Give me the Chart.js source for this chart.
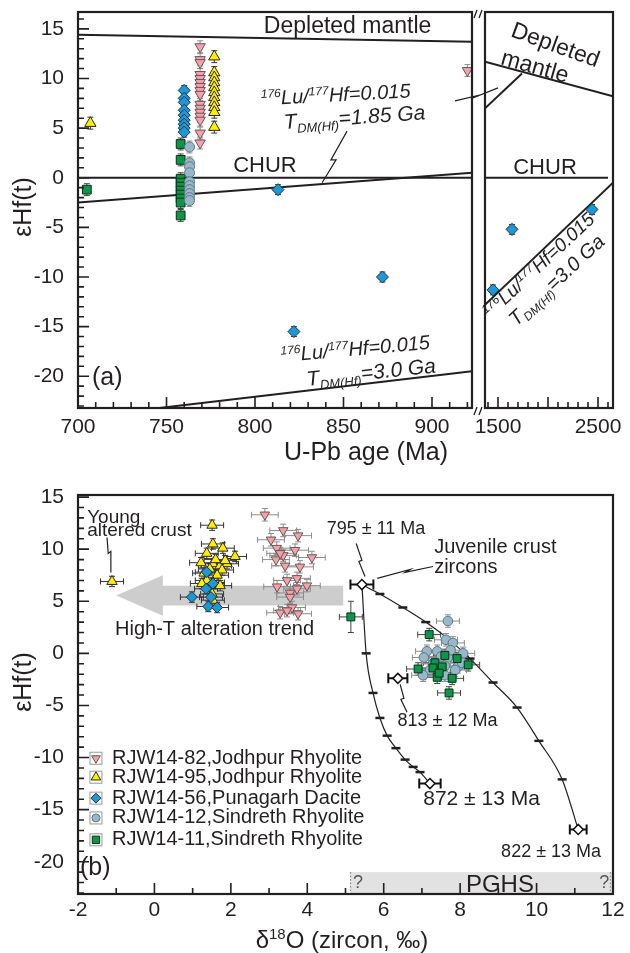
<!DOCTYPE html>
<html>
<head>
<meta charset="utf-8">
<title>eHf(t) vs U-Pb age and d18O</title>
<script src="https://cdn.jsdelivr.net/npm/chart.js@4.4.1/dist/chart.umd.min.js"></script>
<style>
  body { margin: 0; background: #fff; }
  #wrap { position: relative; width: 630px; height: 953px; }
  #wrap canvas { position: absolute; left: 0; }
</style>
</head>
<body>
<div id="wrap">
  <canvas id="ageL" width="630" height="470" style="top:0"></canvas>
  <canvas id="ageR" width="630" height="470" style="top:0"></canvas>
  <canvas id="oxy" width="630" height="483" style="top:470px"></canvas>
</div>
<script>
var INK = '#231f20';
var FONT = '"Liberation Sans", Arial, Helvetica, sans-serif';

// ---------- panel (a): eHf(t) vs U-Pb age (Ma) ----------
var ageTicksL = [700, 750, 800, 850, 900];
var ageTicksR = [1500, 2500];
var hfTicksA = [-20, -15, -10, -5, 0, 5, 10, 15];

var age82 = [769, 769, 769, 769, 769, 769, 769, 769, 769, 769, 769, 769, 769, 769, 769, 769, 920];
var hf82  = [13.2, 11.9, 11.6, 10.4, 10.0, 9.6, 9.2, 8.8, 8.4, 7.4, 7.0, 6.6, 6.2, 5.8, 4.5, 3.5, 10.8];
var age95 = [777, 777, 777, 777, 777, 777, 777, 777, 777, 777, 777, 707];
var hf95  = [12.2, 10.6, 10.1, 9.6, 9.1, 8.6, 8.1, 7.6, 7.1, 6.6, 5.1, 5.5];
var age56 = [760, 760, 760, 760, 760, 760, 760, 760, 760, 813, 822, 872];
var hf56  = [8.8, 8.0, 7.6, 6.8, 6.3, 5.8, 5.4, 5.0, 4.6, -1.2, -15.5, -10.0];
var age56old = [1450, 1640, 2440];
var hf56old  = [-11.3, -5.2, -3.2];
var age12 = [763, 763, 763, 763, 763, 763, 763, 763, 763, 763];
var hf12  = [3.1, 1.5, 1.1, 0.5, -0.4, -0.8, -1.2, -1.6, -2.0, -2.3];
var age11 = [758, 758, 758, 758, 758, 758, 758, 758, 758, 758, 705];
var hf11  = [3.4, 1.8, -0.1, -0.5, -0.9, -1.3, -1.7, -2.1, -2.5, -3.8, -1.2];

// reference evolution lines
var dmAgeL = [700, 922.6],  dmHfL = [14.4, 13.7];
var churAgeL = [700, 922.6], churHfL = [0, 0];
var t185Age = [700, 922.6], t185Hf = [-2.5, 0.5];
var t30AgeL = [746, 922.6], t30HfL = [-23.2, -19.5];
var dmAgeR = [1370, 2650], dmHfR = [11.7, 8.2];
var dmCutAge = [1370, 1740], dmCutHf = [7.0, 10.5];
var churAgeR = [1370, 2600], churHfR = [0, 0];
var t30AgeR = [1370, 2650], t30HfR = [-12.8, -0.5];

// ---------- panel (b): eHf(t) vs d18O ----------
var d18Ticks = [-2, 0, 2, 4, 6, 8, 10, 12];
var hfTicksB = [-20, -15, -10, -5, 0, 5, 10, 15];

var o82 = [2.89, 3.37, 3.76, 3.05, 3.20, 3.68, 4.12, 3.37, 3.18, 3.29, 3.42, 3.81, 3.47, 3.73, 3.21, 3.99, 3.55, 3.73, 3.55, 3.29, 3.60, 3.76, 3.47];
var e82 = [13.3, 11.8, 11.3, 10.9, 10.1, 9.9, 9.2, 9.4, 9.0, 9.6, 8.4, 8.3, 7.0, 7.2, 6.4, 6.5, 5.8, 6.2, 5.4, 3.9, 4.4, 3.8, 4.1];
var o95 = [-1.11, 1.51, 1.53, 1.79, 1.37, 2.11, 1.22, 1.53, 1.72, 1.90, 1.45, 1.77, 1.30, 1.64, 1.37, 1.53, 1.24, 1.72, 1.51, 1.53, 1.60, 1.85];
var e95 = [6.9, 12.3, 10.5, 10.1, 9.6, 9.3, 8.7, 8.6, 8.4, 8.6, 8.1, 8.0, 7.7, 7.5, 7.0, 6.8, 6.7, 6.5, 5.7, 5.1, 9.0, 8.9];
var o56 = [1.37, 1.35, 1.53, 0.98, 1.48, 1.41, 1.64];
var e56 = [7.8, 6.2, 6.7, 5.4, 5.4, 4.5, 4.4];
var o12 = [7.68, 7.63, 7.81, 7.13, 7.40, 8.08, 7.05, 7.68, 7.47, 7.60, 7.94, 7.21, 7.87, 7.03, 7.60, 7.29, 8.05, 7.50, 7.75];
var e12 = [3.1, 1.3, 1.0, 0.2, 0.2, 0.0, -0.4, -0.4, -0.7, -1.2, -1.3, -1.6, -1.6, -2.1, -2.1, -1.0, -0.9, -0.3, 0.3];
var o11 = [5.14, 7.19, 6.90, 8.21, 7.79, 7.40, 7.71, 7.92, 7.34, 7.53, 7.29, 7.60, 7.45];
var e11 = [3.5, 1.8, -1.5, -1.1, -2.4, -2.3, -3.8, -0.5, -0.9, -1.3, -1.4, -0.2, -1.9];
var e11Err = [1.5, 0.6, 0.6, 0.6, 0.6, 0.6, 0.6, 0.6, 0.6, 0.6, 0.6, 0.6, 0.6];

// juvenile crust zircons and mixing curves
var juvO = [5.43, 6.37, 7.21, 11.09];
var juvE = [6.6, -2.4, -12.5, -16.9];
var juvOErr = [0.3, 0.25, 0.28, 0.22];
var mix822O = [5.43, 5.90, 6.50, 7.10, 7.75, 8.26, 8.86, 9.49, 10.06, 10.67, 11.09];
var mix822E = [6.6, 5.7, 4.4, 3.0, 1.2, -0.5, -2.8, -5.2, -8.4, -12.1, -16.9];
var mix872O = [5.43, 5.54, 5.72, 5.90, 6.09, 6.32, 6.56, 6.77, 6.95, 7.21];
var mix872E = [6.6, 0.0, -3.8, -6.2, -7.9, -9.1, -10.2, -10.9, -11.4, -12.5];

var legendNames = ['RJW14-82,Jodhpur Rhyolite', 'RJW14-95,Jodhpur Rhyolite', 'RJW14-56,Punagarh Dacite',
                   'RJW14-12,Sindreth Rhyolite', 'RJW14-11,Sindreth Rhyolite'];

var STY = {
  r82: { ps: 'triangle', rot: 180, r: 6, bg: '#f5a1a8', bd: '#6a5557', err: '#8c8c8c' },
  r95: { ps: 'triangle', rot: 0, r: 6.5, bg: '#ffec00', bd: '#2a2a20', err: '#333' },
  r56: { ps: 'rectRot', rot: 0, r: 6, bg: '#1c98d8', bd: '#173444', err: '#333' },
  r12: { ps: 'circle', rot: 0, r: 5, bg: '#98b7c9', bd: '#5e7886', err: '#8c8c8c' },
  r11: { ps: 'rect', rot: 0, r: 6.2, bg: '#0f9548', bd: '#0a3018', err: '#444' }
};
var legendStyles = [STY.r82, STY.r95, STY.r56, STY.r12, STY.r11];

function pts(xs, ys) { return xs.map(function (x, i) { return { x: x, y: ys[i] }; }); }
function pick(v, j) { return Array.isArray(v) ? v[j] : v; }

function scatter(xs, ys, s, extra) {
  var d = {
    data: pts(xs, ys), showLine: false,
    pointStyle: s.ps, pointRotation: s.rot, pointRadius: s.r,
    backgroundColor: s.bg, borderColor: s.bd, borderWidth: 1, errColor: s.err
  };
  return Object.assign(d, extra || {});
}
function refLine(xs, ys) {
  return { data: pts(xs, ys), showLine: true, pointRadius: 0, borderColor: INK, borderWidth: 2, fill: false };
}

function xAxis(min, max, ticks, pad, h) {
  return {
    type: 'linear', min: min, max: max,
    grid: { display: false, drawTicks: false }, border: { display: false },
    ticks: { font: { family: FONT, size: 21 }, color: INK, padding: pad, maxRotation: 0, autoSkip: false,
             callback: function (v) { return String(v); } },
    afterBuildTicks: function (s) { s.ticks = ticks.map(function (v) { return { value: v }; }); },
    afterFit: function (s) { s.height = h; s.paddingLeft = 0; s.paddingRight = 0; }
  };
}
function yAxis(min, max, ticks, show) {
  return {
    type: 'linear', min: min, max: max, display: show,
    grid: { display: false, drawTicks: false }, border: { display: false },
    ticks: { font: { family: FONT, size: 21 }, color: INK, padding: 14, autoSkip: false,
             callback: function (v) { return String(v); } },
    afterBuildTicks: function (s) { s.ticks = ticks.map(function (v) { return { value: v }; }); },
    afterFit: function (s) { s.width = show ? 78 : 0; s.paddingTop = 0; s.paddingBottom = 0; }
  };
}

// ---------- drawing helpers ----------
function rich(ctx, segs, x, y, size, o) {
  o = o || {};
  var sty = o.italic ? 'italic ' : '';
  var fontOf = function (k) { return sty + (k ? Math.round(size * 0.62) : size) + 'px ' + FONT; };
  var w = 0;
  segs.forEach(function (s) { ctx.font = fontOf(s[1]); w += ctx.measureText(s[0]).width; });
  ctx.save();
  ctx.translate(x, y);
  if (o.angle) ctx.rotate(o.angle * Math.PI / 180);
  ctx.fillStyle = o.color || INK;
  ctx.textBaseline = o.baseline || 'alphabetic';
  var cx = o.align === 'left' ? 0 : (o.align === 'right' ? -w : -w / 2);
  segs.forEach(function (s) {
    ctx.font = fontOf(s[1]);
    var dy = s[1] === 'sup' ? -size * 0.36 : (s[1] === 'sub' ? size * 0.22 : 0);
    ctx.fillText(s[0], cx, dy);
    cx += ctx.measureText(s[0]).width;
  });
  ctx.restore();
}
function px(c, x, y) { return [c.scales.x.getPixelForValue(x), c.scales.y.getPixelForValue(y)]; }
function note(c, segs, x, y, size, o) { var p = px(c, x, y); rich(c.ctx, segs, p[0], p[1], size, o); }
function leader(c, xs, ys, w) {
  var ctx = c.ctx;
  ctx.save();
  ctx.strokeStyle = INK; ctx.lineWidth = w || 1.2;
  ctx.beginPath();
  xs.forEach(function (x, i) { var p = px(c, x, ys[i]); if (i) ctx.lineTo(p[0], p[1]); else ctx.moveTo(p[0], p[1]); });
  ctx.stroke();
  ctx.restore();
}
var LU = [['176', 'sup'], ['Lu/'], ['177', 'sup'], ['Hf=0.015']];
function tdm(ga) { return [['T'], ['DM(Hf)', 'sub'], ['=' + ga + ' Ga']]; }
var EHF = [['\u03b5'], ['Hf(t)']];

// ---------- plugins ----------
var errPlugin = {
  id: 'errbars',
  beforeDatasetsDraw: function (chart) {
    var ctx = chart.ctx, xs = chart.scales.x, ys = chart.scales.y;
    chart.data.datasets.forEach(function (ds) {
      if (!ds.xErr && !ds.yErr) return;
      ctx.save();
      ctx.strokeStyle = ds.errColor || '#444';
      ctx.lineWidth = ds.errWidth || 1;
      var cap = ds.errCap || 3;
      ds.data.forEach(function (p, j) {
        var x = xs.getPixelForValue(p.x), y = ys.getPixelForValue(p.y);
        var ex = pick(ds.xErr, j), ey = pick(ds.yErr, j);
        ctx.beginPath();
        if (ex) {
          var x0 = xs.getPixelForValue(p.x - ex), x1 = xs.getPixelForValue(p.x + ex);
          ctx.moveTo(x0, y); ctx.lineTo(x1, y);
          ctx.moveTo(x0, y - cap); ctx.lineTo(x0, y + cap);
          ctx.moveTo(x1, y - cap); ctx.lineTo(x1, y + cap);
        }
        if (ey) {
          var y0 = ys.getPixelForValue(p.y - ey), y1 = ys.getPixelForValue(p.y + ey);
          ctx.moveTo(x, y0); ctx.lineTo(x, y1);
          ctx.moveTo(x - cap, y0); ctx.lineTo(x + cap, y0);
          ctx.moveTo(x - cap, y1); ctx.lineTo(x + cap, y1);
        }
        ctx.stroke();
      });
      ctx.restore();
    });
  }
};

var framePlugin = {
  id: 'frame',
  afterDatasetsDraw: function (chart, args, o) {
    var ctx = chart.ctx, a = chart.chartArea, xs = chart.scales.x, ys = chart.scales.y;
    function walk(sc, step, major, fn) {
      for (var v = Math.ceil(sc.min / step - 1e-9) * step; v <= sc.max + 1e-9; v += step) {
        var big = Math.abs(v / major - Math.round(v / major)) < 1e-6;
        fn(sc.getPixelForValue(v), big ? 11 : 6);
      }
    }
    ctx.save();
    ctx.strokeStyle = INK;
    ctx.lineWidth = 1.6;
    ctx.beginPath();
    if (o.xStep) walk(xs, o.xStep, o.xMajor, function (p, len) { ctx.moveTo(p, a.bottom); ctx.lineTo(p, a.bottom - len); });
    if (o.yStep) walk(ys, o.yStep, o.yMajor, function (p, len) { ctx.moveTo(a.left, p); ctx.lineTo(a.left + len, p); });
    ctx.stroke();
    ctx.lineWidth = 2.2;
    ctx.strokeRect(a.left, a.top, a.right - a.left, a.bottom - a.top);
    ctx.restore();
  }
};

var notesAL = {
  id: 'notesAL',
  afterDraw: function (c) {
    var ctx = c.ctx, a = c.chartArea;
    note(c, [['Depleted mantle']], 852.3, 14.6, 23);
    note(c, LU, 845.8, 7.7, 20, { italic: true, angle: -3 });
    note(c, tdm('1.85'), 856.5, 5.4, 21, { italic: true, angle: -4 });
    note(c, [['CHUR']], 805.6, 0.6, 22);
    note(c, LU, 857, -17.9, 20, { italic: true, angle: -5 });
    note(c, tdm('3.0'), 866, -20.3, 21, { italic: true, angle: -6 });
    note(c, [['(a)']], 707.9, -20.9, 25, { align: 'left' });
    leader(c, [837.9, 845.8, 842.9, 852], [-0.5, 1.8, 1.8, 4.7]);
    leader(c, [913.0, 925.4, 922.0, 937.3], [7.75, 8.26, 7.96, 9.06]);
    // axis break marks
    ctx.save();
    ctx.strokeStyle = INK; ctx.lineWidth = 1.3;
    ctx.beginPath();
    [a.top + 2, a.bottom + 3].forEach(function (yy) {
      ctx.moveTo(a.right + 2, yy + 4); ctx.lineTo(a.right + 5, yy - 4);
      ctx.moveTo(a.right + 7, yy + 4); ctx.lineTo(a.right + 10, yy - 4);
    });
    ctx.stroke();
    ctx.restore();
    rich(ctx, [['U-Pb age (Ma)']], 366, 460, 25);
    rich(ctx, EHF, 24, 207, 25, { angle: -90, baseline: 'middle' });
  }
};
var notesAR = {
  id: 'notesAR',
  afterDraw: function (c) {
    note(c, [['CHUR']], 1970, 0.4, 22);
    note(c, [['Depleted']], 2050, 12.7, 23, { angle: 20 });
    note(c, [['mantle']], 1850, 10.5, 23, { angle: 16 });
    note(c, LU, 1950, -9.3, 19, { italic: true, angle: -43 });
    note(c, tdm('3.0'), 2130, -10.8, 20, { italic: true, angle: -43 });
  }
};

var notesB = {
  id: 'notesB',
  beforeDraw: function (c) {
    var ctx = c.ctx;
    // high-T alteration arrow
    var ax = [-1.0, 0.22, 0.22, 4.94, 4.94, 0.22, 0.22];
    var ay = [5.56, 7.5, 6.5, 6.5, 4.6, 4.6, 3.6];
    ctx.save();
    ctx.fillStyle = '#cdcdcd';
    ctx.beginPath();
    ax.forEach(function (x, i) { var p = px(c, x, ay[i]); if (i) ctx.lineTo(p[0], p[1]); else ctx.moveTo(p[0], p[1]); });
    ctx.closePath();
    ctx.fill();
    // PGHS band
    var p0 = px(c, 5.12, -21.0), p1 = px(c, 12, -23.1);
    ctx.fillStyle = '#e2e2e2';
    ctx.fillRect(p0[0], p0[1], p1[0] - p0[0], p1[1] - p0[1]);
    ctx.strokeStyle = '#777'; ctx.lineWidth = 1; ctx.setLineDash([1.5, 2]);
    ctx.beginPath();
    ctx.moveTo(p0[0] + 0.5, p0[1]); ctx.lineTo(p0[0] + 0.5, p1[1]);
    var q = px(c, 11.93, -21.0);
    ctx.moveTo(q[0], p0[1]); ctx.lineTo(q[0], p1[1]);
    ctx.stroke();
    ctx.restore();
  },
  afterDraw: function (c) {
    var ctx = c.ctx;
    note(c, [['?']], 5.33, -22.5, 18, { color: '#555' });
    note(c, [['?']], 11.77, -22.5, 18, { color: '#555' });
    note(c, [['PGHS']], 9.04, -22.9, 24);
    note(c, [['Young']], -1.76, 12.56, 19, { align: 'left' });
    note(c, [['altered crust']], -1.76, 11.31, 19, { align: 'left' });
    leader(c, [-1.24, -1.21, -1.14, -1.14], [11.12, 9.59, 9.78, 7.77]);
    note(c, [['High-T alteration trend']], -1.03, 1.73, 20, { align: 'left' });
    note(c, [['795 \u00b1 11 Ma']], 5.80, 11.5, 18);
    leader(c, [5.28, 5.43, 5.35, 5.51], [10.55, 8.92, 8.82, 7.38]);
    note(c, [['Juvenile crust']], 7.32, 9.68, 20, { align: 'left' });
    note(c, [['zircons']], 7.32, 7.67, 20, { align: 'left' });
    leader(c, [7.29, 6.56, 6.69, 5.83], [8.34, 7.77, 8.05, 7.19]);
    note(c, [['813 \u00b1 12 Ma']], 7.67, -7.0, 18);
    leader(c, [6.43, 6.53, 6.45, 6.61], [-2.97, -4.31, -4.41, -5.66]);
    note(c, [['872 \u00b1 13 Ma']], 8.56, -14.57, 21);
    note(c, [['822 \u00b1 13 Ma']], 10.38, -19.56, 18);
    note(c, [['(b)']], -1.95, -21.3, 25, { align: 'left' });
    // legend
    var rows = [-10.07, -11.89, -13.9, -15.8, -17.9];
    rows.forEach(function (yv, i) {
      var s = legendStyles[i], p = px(c, -1.53, yv);
      ctx.save();
      ctx.strokeStyle = '#999'; ctx.lineWidth = 1;
      ctx.strokeRect(p[0] - 6, p[1] - 6, 12, 12);
      ctx.fillStyle = s.bg; ctx.strokeStyle = s.bd;
      if (Chart.helpers && Chart.helpers.drawPoint) {
        Chart.helpers.drawPoint(ctx, { pointStyle: s.ps, rotation: s.rot, radius: s.r - 1, borderWidth: 1 }, p[0], p[1]);
      }
      ctx.restore();
      note(c, [[legendNames[i]]], -1.11, yv, 20, { align: 'left', baseline: 'middle' });
    });
    rich(ctx, [['\u03b4'], ['18', 'sup'], ['O (zircon, \u2030)']], 342, 478, 24);
    rich(ctx, EHF, 24, 212, 25, { angle: -90, baseline: 'middle' });
  }
};

var baseOpts = function (pad, scales, frame) {
  return {
    responsive: false, animation: false, events: [], devicePixelRatio: 1,
    layout: { padding: pad },
    scales: scales,
    plugins: { legend: { display: false }, tooltip: { enabled: false }, frame: frame }
  };
};

// panel (a), left segment
new Chart(document.getElementById('ageL'), {
  type: 'scatter',
  data: { datasets: [
    scatter(age95, hf95, STY.r95, { yErr: 0.6 }),
    scatter(age82, hf82, STY.r82, { yErr: 0.6 }),
    scatter(age56, hf56, STY.r56, { yErr: 0.5 }),
    scatter(age12, hf12, STY.r12, { yErr: 0.6 }),
    scatter(age11, hf11, STY.r11, { yErr: 0.6 }),
    refLine(dmAgeL, dmHfL), refLine(churAgeL, churHfL), refLine(t185Age, t185Hf), refLine(t30AgeL, t30HfL)
  ] },
  options: baseOpts({ left: 0, top: 12, right: 158, bottom: 0 },
    { x: xAxis(700, 922.6, ageTicksL, 7, 62), y: yAxis(-23.2, 16.7, hfTicksA, true) },
    { xStep: 10, xMajor: 50, yStep: 1, yMajor: 5 }),
  plugins: [errPlugin, framePlugin, notesAL]
});

// panel (a), right segment (older grains)
new Chart(document.getElementById('ageR'), {
  type: 'scatter',
  data: { datasets: [
    scatter(age56old, hf56old, STY.r56, { yErr: 0.5 }),
    refLine(dmAgeR, dmHfR), refLine(dmCutAge, dmCutHf), refLine(churAgeR, churHfR), refLine(t30AgeR, t30HfR)
  ] },
  options: baseOpts({ left: 485, top: 12, right: 17, bottom: 0 },
    { x: xAxis(1370, 2650, ageTicksR, 7, 62), y: yAxis(-23.2, 16.7, hfTicksA, false) },
    { xStep: 100, xMajor: 500 }),
  plugins: [errPlugin, framePlugin, notesAR]
});

// panel (b)
var tickR = function (c) { var n = c.dataset.data.length; return (c.dataIndex === 0 || c.dataIndex === n - 1) ? 0 : 4.5; };
new Chart(document.getElementById('oxy'), {
  type: 'scatter',
  data: { datasets: [
    scatter(juvO, juvE, { ps: 'rectRot', rot: 0, r: 5, bg: '#ffffff', bd: '#111', err: '#111' },
      { xErr: juvOErr, errWidth: 2, errCap: 5, borderWidth: 1.5 }),
    scatter(o56, e56, STY.r56, { xErr: 0.3, yErr: 0.5, pointRadius: 5.5 }),
    scatter(o95, e95, STY.r95, { xErr: 0.3, yErr: 0.5, pointRadius: 6 }),
    scatter(o11, e11, STY.r11, { xErr: 0.3, yErr: e11Err, pointRadius: 5.6 }),
    scatter(o12, e12, STY.r12, { xErr: 0.3, yErr: 0.6, pointRadius: 4.8 }),
    scatter(o82, e82, STY.r82, { xErr: 0.35, yErr: 0.6, pointRadius: 5.5 }),
    { data: pts(mix822O, mix822E), showLine: true, borderColor: INK, borderWidth: 1.2, cubicInterpolationMode: 'monotone',
      pointStyle: 'line', pointRadius: tickR, pointBorderWidth: 2.5, pointBorderColor: INK },
    { data: pts(mix872O, mix872E), showLine: true, borderColor: INK, borderWidth: 1.2, cubicInterpolationMode: 'monotone',
      pointStyle: 'line', pointRadius: tickR, pointBorderWidth: 2.5, pointBorderColor: INK }
  ] },
  options: baseOpts({ left: 0, top: 25, right: 17, bottom: 0 },
    { x: xAxis(-2, 12, d18Ticks, 4, 59), y: yAxis(-23.1, 15.2, hfTicksB, true) },
    { xStep: 1, xMajor: 2, yStep: 1, yMajor: 5 }),
  plugins: [notesB, errPlugin, framePlugin]
});
</script>
</body>
</html>
